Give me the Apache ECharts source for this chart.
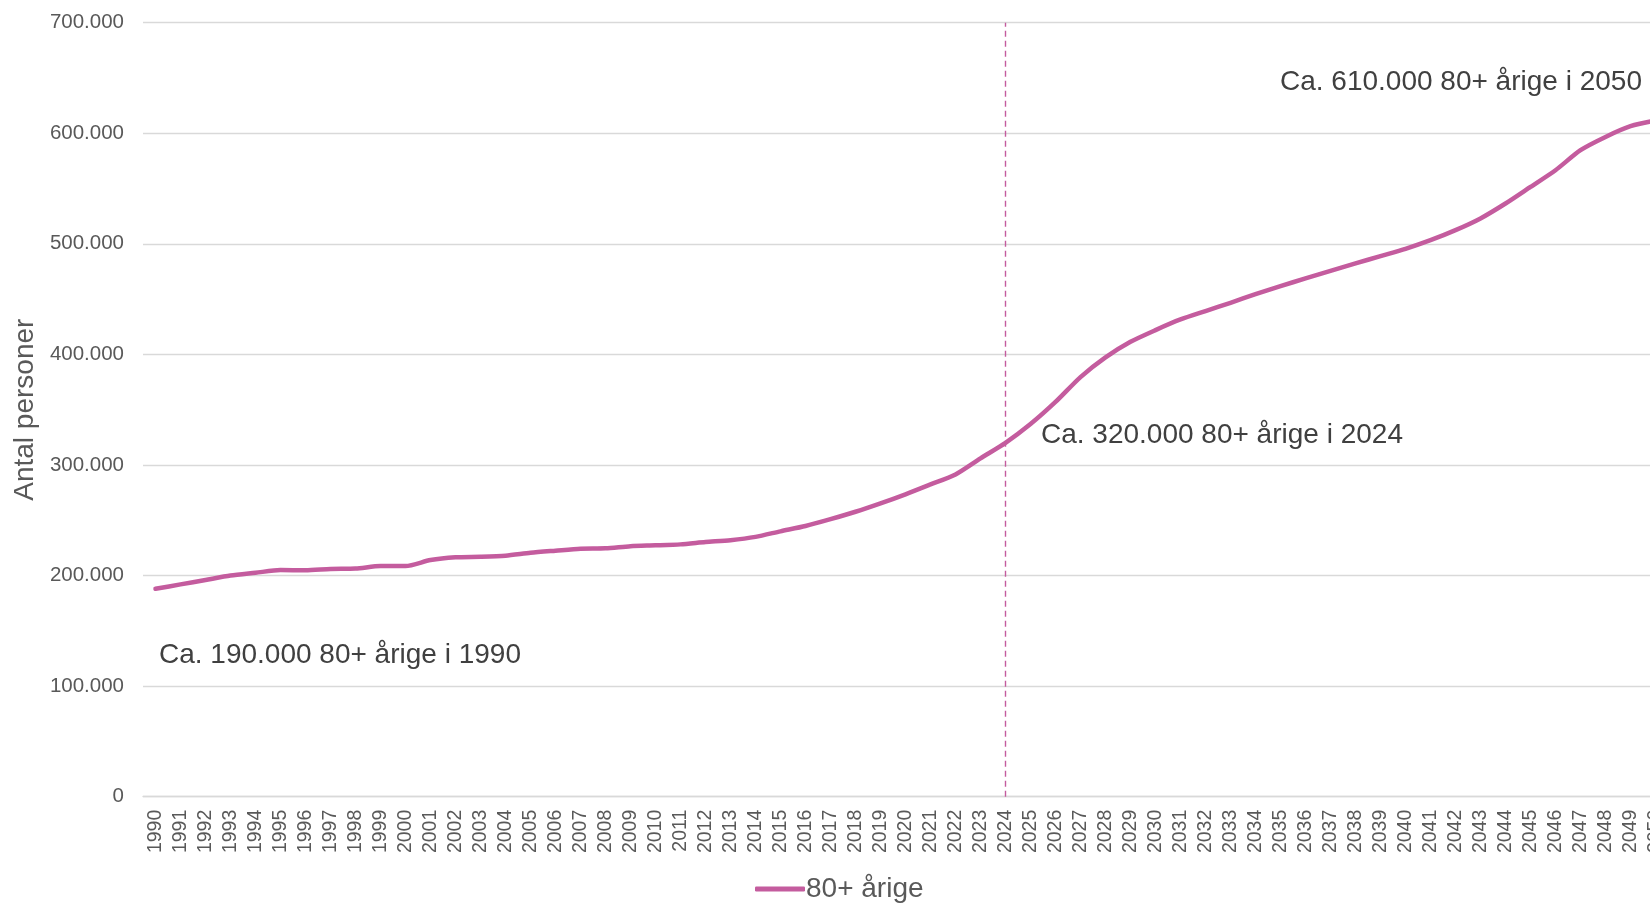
<!DOCTYPE html>
<html>
<head>
<meta charset="utf-8">
<script src="https://cdn.jsdelivr.net/npm/echarts@6/dist/echarts.min.js"></script>
<style>
  html, body { margin: 0; padding: 0; background: #ffffff; overflow: hidden; }
  #chart { width: 1690px; height: 904px; }
</style>
</head>
<body>
<div id="chart"></div>
<script>
// Categories: years 1990-2050
const years = ['1990','1991','1992','1993','1994','1995','1996','1997','1998','1999',
  '2000','2001','2002','2003','2004','2005','2006','2007','2008','2009',
  '2010','2011','2012','2013','2014','2015','2016','2017','2018','2019',
  '2020','2021','2022','2023','2024','2025','2026','2027','2028','2029',
  '2030','2031','2032','2033','2034','2035','2036','2037','2038','2039',
  '2040','2041','2042','2043','2044','2045','2046','2047','2048','2049','2050'];

// Number of persons aged 80+
const persons80 = [
  188000, 192000, 196000, 200000, 202500, 205000, 204800, 206000, 206300, 208600,
  208600, 214000, 216500, 217000, 218000, 220600, 222500, 224300, 224600, 226600,
  227300, 228200, 230300, 232000, 235000, 240000, 244800, 251000, 257700, 265300,
  273500, 282400, 291500, 306000, 320000, 337000, 357000, 379500, 397300, 411400,
  422000, 431600, 439200, 446700, 454500, 461800, 468700, 475600, 482300, 488900,
  495500, 503300, 512400, 523000, 536500, 551500, 566600, 584700, 596700, 606400, 611500];

const seriesName = '80+ årige';
const yAxisTitle = 'Antal personer';
const yTicks = { min: 0, max: 700000, interval: 100000 };
const markerYear = '2024';

const annotations = [
  { text: 'Ca. 190.000 80+ årige i 1990', x: 159, y: 655 },
  { text: 'Ca. 320.000 80+ årige i 2024', x: 1041, y: 435 },
  { text: 'Ca. 610.000 80+ årige i 2050', x: 1280, y: 82 }
];

const FONT = "'Liberation Sans', Arial, sans-serif";
const LINE_COLOR = '#c45c9e';

function fmt(v) {
  return String(v).replace(/\B(?=(\d{3})+(?!\d))/g, '.');
}

const chart = echarts.init(document.getElementById('chart'), null, { renderer: 'canvas' });

chart.setOption({
  animation: false,
  backgroundColor: '#ffffff',
  textStyle: { fontFamily: FONT },
  grid: { left: 143, top: 22.7, right: 22, bottom: 107.3, containLabel: false },
  xAxis: {
    type: 'category',
    data: years,
    boundaryGap: true,
    axisLine: { show: true, lineStyle: { color: '#d9d9d9', width: 1.3 } },
    axisTick: { show: false },
    axisLabel: {
      rotate: 90,
      interval: 0,
      margin: 13,
      color: '#595959',
      fontSize: 19.5,
      fontFamily: FONT
    },
    splitLine: { show: false }
  },
  yAxis: {
    type: 'value',
    min: yTicks.min,
    max: yTicks.max,
    interval: yTicks.interval,
    name: yAxisTitle,
    nameLocation: 'middle',
    nameGap: 99,
    nameTextStyle: { color: '#595959', fontSize: 28, fontFamily: FONT },
    axisLine: { show: false },
    axisTick: { show: false },
    axisLabel: {
      margin: 19,
      color: '#595959',
      fontSize: 20.5,
      fontFamily: FONT,
      formatter: fmt
    },
    splitLine: { show: true, lineStyle: { color: '#d9d9d9', width: 1.3 } }
  },
  legend: {
    show: true,
    left: 750,
    top: 870,
    itemWidth: 50,
    itemHeight: 5,
    icon: 'roundRect',
    textStyle: { color: '#595959', fontSize: 28, fontFamily: FONT, padding: [0, 0, 0, -4] },
    data: [{ name: seriesName, itemStyle: { color: LINE_COLOR } }]
  },
  series: [{
    name: seriesName,
    type: 'line',
    data: persons80,
    showSymbol: false,
    smooth: 0.25,
    lineStyle: { color: LINE_COLOR, width: 4.5, cap: 'round', join: 'round' },
    itemStyle: { color: LINE_COLOR },
    markLine: {
      silent: true,
      symbol: ['none', 'none'],
      label: { show: false },
      lineStyle: { color: LINE_COLOR, type: [6, 4], width: 1.4 },
      data: [{ xAxis: markerYear }]
    },
    z: 3
  }],
  graphic: annotations.map(a => ({
    type: 'text',
    x: a.x,
    y: a.y,
    style: {
      text: a.text,
      fill: '#404040',
      font: '28px ' + FONT,
      textVerticalAlign: 'middle',
      textAlign: 'left'
    }
  }))
});
</script>
</body>
</html>
